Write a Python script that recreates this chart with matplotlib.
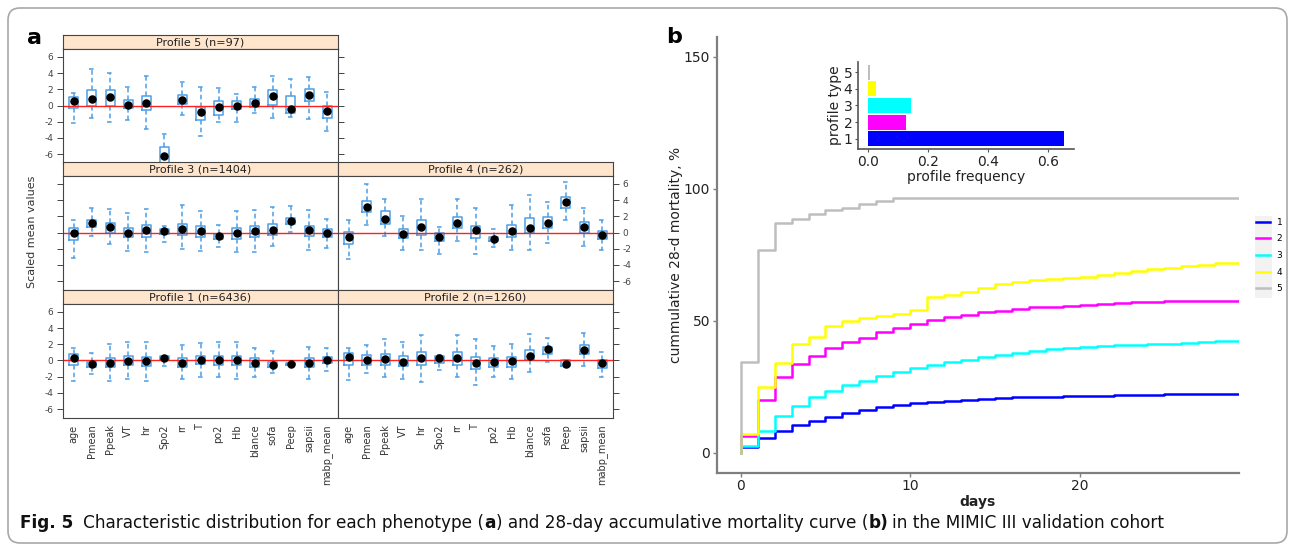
import numpy as np
import matplotlib
matplotlib.use("Agg")
import matplotlib.pyplot as plt
from matplotlib.patches import FancyBboxPatch, Rectangle
from matplotlib.transforms import IdentityTransform

plt.rcParams["axes.unicode_minus"] = False

# ---------------- panel a data (scaled values per profile) ----------------
variables = ["age", "Pmean", "Ppeak", "VT", "hr", "Spo2", "rr", "T", "po2", "Hb",
             "blance", "sofa", "Peep", "sapsii", "mabp_mean"]

p5_med = [0.6, 0.8, 1.0, 0.1, 0.3, -6.2, 0.7, -0.8, -0.2, 0.0, 0.35, 1.2, -0.4, 1.3, -0.65]
p5_q1 = [-0.35, -0.05, 0.0, -0.25, -0.55, -7.5, 0.15, -1.8, -1.15, -0.45, -0.2, 0.1, -0.9, 0.5, -1.6]
p5_q3 = [1.0, 1.9, 1.9, 0.7, 1.2, -5.1, 1.3, -0.2, 0.5, 0.5, 0.8, 1.9, 1.2, 2.0, -0.1]
p5_lo = [-2.2, -1.6, -2.0, -1.8, -2.9, -8.5, -1.2, -3.8, -2.0, -2.1, -0.9, -1.6, -1.4, -1.7, -3.2]
p5_hi = [1.6, 4.5, 4.0, 2.3, 3.6, -3.5, 2.9, 2.3, 2.2, 1.4, 2.3, 3.7, 3.3, 3.5, 1.7]

p3_med = [0.0, 1.2, 0.65, 0.0, 0.25, 0.15, 0.4, 0.15, -0.45, 0.0, 0.2, 0.35, 1.45, 0.25, 0.0]
p3_q1 = [-0.9, 0.7, 0.0, -0.55, -0.5, -0.2, -0.3, -0.5, -0.85, -0.75, -0.5, -0.35, 1.0, -0.4, -0.55]
p3_q3 = [0.6, 1.6, 1.2, 0.55, 0.9, 0.4, 1.05, 0.75, -0.2, 0.55, 0.8, 1.05, 1.8, 0.8, 0.4]
p3_lo = [-3.2, -0.4, -1.45, -2.3, -2.4, -1.15, -2.05, -2.25, -1.85, -2.4, -2.4, -1.65, 0.1, -2.15, -1.95]
p3_hi = [1.55, 3.0, 2.95, 2.4, 2.95, 0.75, 3.35, 2.65, 0.9, 2.6, 2.75, 3.15, 3.25, 2.75, 1.7]

p4_med = [-0.6, 3.1, 1.7, -0.2, 0.7, -0.5, 1.2, 0.3, -0.8, 0.15, 0.55, 1.15, 3.75, 0.65, -0.3]
p4_q1 = [-1.4, 2.5, 1.0, -0.7, -0.3, -1.1, 0.5, -0.7, -1.1, -0.6, -0.1, 0.55, 3.0, -0.1, -0.75]
p4_q3 = [0.1, 3.9, 2.6, 0.4, 1.5, 0.0, 1.9, 0.8, -0.5, 0.95, 1.75, 1.9, 4.35, 1.3, 0.2]
p4_lo = [-3.3, 0.9, -0.4, -2.2, -2.2, -2.65, -1.0, -2.7, -1.8, -2.2, -2.2, -1.35, 1.55, -1.7, -2.2]
p4_hi = [1.55, 6.0, 4.2, 2.0, 4.2, 0.65, 4.1, 3.0, 0.4, 3.4, 4.6, 3.8, 6.2, 3.05, 1.6]

p1_med = [0.3, -0.45, -0.25, -0.1, -0.1, 0.35, -0.25, 0.1, 0.1, 0.0, -0.25, -0.55, -0.45, -0.25, 0.1]
p1_q1 = [-0.55, -0.8, -0.85, -0.6, -0.7, 0.1, -0.8, -0.45, -0.5, -0.6, -0.8, -0.85, -0.6, -0.75, -0.35]
p1_q3 = [0.8, -0.15, 0.3, 0.55, 0.45, 0.55, 0.25, 0.6, 0.6, 0.55, 0.3, -0.2, -0.3, 0.3, 0.45]
p1_lo = [-2.5, -1.65, -2.5, -2.3, -2.5, -0.7, -2.3, -2.0, -2.0, -2.3, -2.1, -1.55, -0.6, -2.3, -1.35]
p1_hi = [1.5, 0.9, 2.0, 2.3, 2.25, 0.6, 1.9, 2.15, 2.25, 2.25, 1.5, 1.15, -0.3, 1.65, 1.55]

p2_med = [0.45, 0.1, 0.2, -0.2, 0.3, 0.25, 0.3, -0.25, -0.15, -0.1, 0.6, 1.4, -0.4, 1.3, -0.35]
p2_q1 = [-0.5, -0.5, -0.55, -0.7, -0.5, -0.3, -0.55, -1.0, -0.8, -0.8, 0.1, 0.8, -0.7, 0.75, -0.9]
p2_q3 = [0.95, 0.65, 0.8, 0.55, 1.05, 0.6, 1.0, 0.45, 0.3, 0.4, 1.25, 1.65, 0.1, 1.9, 0.0]
p2_lo = [-2.45, -1.6, -2.1, -2.3, -2.7, -1.2, -2.0, -3.05, -2.0, -2.3, -1.4, -0.2, -0.8, -0.7, -2.0]
p2_hi = [1.5, 1.9, 2.6, 2.3, 3.2, 0.7, 3.1, 2.6, 1.75, 2.1, 3.3, 2.75, 0.1, 3.45, 1.1]

# ---------------- panel b data ----------------
days = np.arange(0, 29)
mort_1 = [2.0, 5.5, 8.4, 10.6, 12.1, 13.5, 15.1, 16.2, 17.3, 18.2, 18.8, 19.2, 19.6, 20.0, 20.4,
          20.6, 20.9, 21.1, 21.2, 21.4, 21.5, 21.6, 21.8, 21.9, 22.0, 22.1, 22.2, 22.3, 22.4]
mort_2 = [6.2, 19.8, 28.8, 33.6, 36.6, 39.6, 41.9, 43.6, 45.7, 47.3, 48.7, 50.1, 51.4, 52.3, 53.1,
          53.8, 54.5, 55.0, 55.3, 55.7, 56.1, 56.4, 56.6, 56.9, 57.1, 57.3, 57.4, 57.5, 57.6]
mort_3 = [2.7, 8.4, 13.9, 17.6, 20.9, 23.4, 25.7, 27.0, 29.0, 30.7, 32.1, 33.2, 34.4, 35.1, 36.1,
          37.0, 37.8, 38.5, 39.2, 39.6, 40.0, 40.3, 40.6, 40.8, 41.1, 41.3, 41.6, 42.0, 42.2]
mort_4 = [7.1, 24.8, 33.8, 41.1, 43.9, 48.1, 50.0, 50.9, 51.7, 52.4, 54.2, 58.9, 59.8, 60.8, 62.5,
          64.0, 64.8, 65.3, 65.6, 66.0, 66.7, 67.2, 68.1, 68.8, 69.5, 70.1, 70.6, 71.2, 71.8]
mort_5 = [34.2, 76.8, 87.0, 88.5, 90.2, 92.0, 92.6, 94.1, 95.2, 96.5, 96.5, 96.5, 96.5, 96.5, 96.5,
          96.5, 96.5, 96.5, 96.5, 96.5, 96.5, 96.5, 96.5, 96.5, 96.5, 96.5, 96.5, 96.5, 96.5]
profile_types = [1, 2, 3, 4, 5]
profile_freq = [0.655, 0.128, 0.145, 0.026, 0.008]
profile_colors = ["#0000FF", "#FF00FF", "#00FFFF", "#FFFF00", "#BEBEBE"]

W, H = 1293, 546
fig = plt.figure(figsize=(W / 100, H / 100), dpi=100)


def px_axes(x0, y0, x1, y1, **kw):
    # pixel box measured from the top-left corner
    return fig.add_axes([x0 / W, 1 - y1 / H, (x1 - x0) / W, (y1 - y0) / H], **kw)


# outer rounded frame
frame = FancyBboxPatch((8, 3), 1279, 535, boxstyle="round,pad=0,rounding_size=12",
                       transform=IdentityTransform(), fc="none", ec="#A8A8A8", lw=1.2)
fig.patches.append(frame)

# ---------------- panel a ----------------
box_col = "#4C9FE6"
cols = [(63, 338), (338, 613)]
row_top = [35, 162, 290]
strip_h = 13.5
plot_h = 114

panels = [
    ("Profile 5 (n=97)", 0, 0, p5_med, p5_q1, p5_q3, p5_lo, p5_hi, "left", True, "right"),
    ("Profile 3 (n=1404)", 1, 0, p3_med, p3_q1, p3_q3, p3_lo, p3_hi, "left", False, None),
    ("Profile 4 (n=262)", 1, 1, p4_med, p4_q1, p4_q3, p4_lo, p4_hi, "right", True, None),
    ("Profile 1 (n=6436)", 2, 0, p1_med, p1_q1, p1_q3, p1_lo, p1_hi, "left", True, None),
    ("Profile 2 (n=1260)", 2, 1, p2_med, p2_q1, p2_q3, p2_lo, p2_hi, "right", False, None),
]

pos = np.arange(1, len(variables) + 1)
for title, r, c, med, q1, q3, lo, hi, tside, tlab, extra in panels:
    x0, x1 = cols[c]
    top = row_top[r]
    sax = px_axes(x0, top, x1, top + strip_h)
    sax.set_facecolor("#FFE5CC")
    sax.set_xticks([])
    sax.set_yticks([])
    for s in sax.spines.values():
        s.set_color("#444444")
        s.set_linewidth(0.8)
    sax.text(0.5, 0.45, title, ha="center", va="center", fontsize=8, color="#222222",
             transform=sax.transAxes)

    ax = px_axes(x0, top + strip_h, x1, top + strip_h + plot_h)
    stats = [dict(med=m, q1=a, q3=b, whislo=l, whishi=h, fliers=[])
             for m, a, b, l, h in zip(med, q1, q3, lo, hi)]
    ax.bxp(stats, positions=pos, widths=0.5, showfliers=False,
           boxprops=dict(color=box_col, lw=1.1),
           whiskerprops=dict(color=box_col, lw=1.1, ls=(0, (3, 2))),
           capprops=dict(color=box_col, lw=1.1, ls=(0, (3, 2))),
           medianprops=dict(visible=False), capwidths=0.3)
    ax.axhline(0, color="#FF2020", lw=1.0, zorder=2.5)
    ax.scatter(pos, med, s=26, color="black", zorder=3)
    ax.set_xlim(0.4, 15.6)
    ax.set_ylim(-7.05, 7.05)
    ax.set_yticks([-6, -4, -2, 0, 2, 4, 6])
    for s in ax.spines.values():
        s.set_color("#444444")
        s.set_linewidth(0.8)
    ax.tick_params(axis="y", which="both", left=False, right=False, labelleft=False,
                   labelright=False, length=4, width=0.7, colors="#444444", labelsize=6.5, pad=3)
    if tside == "left":
        ax.tick_params(axis="y", left=True, labelleft=tlab)
    else:
        ax.tick_params(axis="y", right=True, labelright=tlab)
    if extra == "right":
        ax.tick_params(axis="y", right=True)
    if r == 2:
        ax.set_xticks(pos)
        ax.set_xticklabels(variables, rotation=90, fontsize=7, color="#333333")
        ax.tick_params(axis="x", length=0, pad=5)
    else:
        ax.set_xticks([])

fig.text(32 / W, 1 - 232 / H, "Scaled mean values", rotation=90, fontsize=8, color="#333333",
         ha="center", va="center")
fig.text(35 / W, 1 - 38 / H, "a", fontsize=16, fontweight="bold", ha="center", va="center")
fig.text(674 / W, 1 - 37 / H, "b", fontsize=16, fontweight="bold", ha="center", va="center")

# ---------------- panel b ----------------
axb = px_axes(717, 36.7, 1239, 472.5)
xmax = 29.4
lines = []
for k, vals in enumerate([mort_1, mort_2, mort_3, mort_4, mort_5]):
    xs = np.r_[0, days, xmax]
    ys = np.r_[0, vals, vals[-1]]
    ln, = axb.plot(xs, ys, drawstyle="steps-post", color=profile_colors[k], lw=1.8)
    lines.append(ln)
axb.set_xlim(-1.4, xmax)
axb.set_ylim(-7.5, 157.5)
axb.set_xticks([0, 10, 20])
axb.set_yticks([0, 50, 100, 150])
for s in ["top", "right"]:
    axb.spines[s].set_visible(False)
for s in ["left", "bottom"]:
    axb.spines[s].set_color("#7F7F7F")
    axb.spines[s].set_linewidth(1.6)
axb.tick_params(length=3, width=1, colors="#7F7F7F", labelcolor="#222222", labelsize=10, pad=2)
axb.set_xlabel("days", fontsize=10, fontweight="bold", color="#222222", labelpad=1)
axb.set_ylabel("cummulative 28-d mortality, %", fontsize=10, color="#222222")
axb.yaxis.set_label_coords(-0.065, 0.5)

# grey key background behind the legend keys (kept below the axes)
fig.patches.append(Rectangle((1255, H - 298), 17, 82, transform=IdentityTransform(),
                             fc="#F2F2F2", ec="none", zorder=-1))
axb.legend(lines, [str(p) for p in profile_types], loc="upper left",
           bbox_to_anchor=(1254 / W, 1 - 216 / H), bbox_transform=fig.transFigure,
           frameon=False, fontsize=6.5, handlelength=1.6, handletextpad=0.7,
           labelspacing=0.85, borderpad=0.2, borderaxespad=0)

# inset bar chart
axi = px_axes(858, 62, 1074, 149)
axi.barh(profile_types, profile_freq, height=0.9, color=profile_colors)
axi.set_xlim(-0.033, 0.688)
axi.set_ylim(0.4, 5.6)
axi.set_xticks([0, 0.2, 0.4, 0.6])
axi.set_xticklabels(["0.0", "0.2", "0.4", "0.6"])
axi.set_yticks(profile_types)
for s in ["top", "right"]:
    axi.spines[s].set_visible(False)
for s in ["left", "bottom"]:
    axi.spines[s].set_color("#555555")
    axi.spines[s].set_linewidth(1.2)
axi.tick_params(length=2.5, width=0.8, colors="#555555", labelcolor="#222222", labelsize=10, pad=1.5)
axi.set_xlabel("profile frequency", fontsize=10, color="#222222", labelpad=1)
axi.set_ylabel("profile type", fontsize=10, color="#222222", labelpad=1)

# ---------------- caption ----------------
cap_font = ["DejaVu Sans"]
parts = [("Fig. 5", "bold", 10),
         ("Characteristic distribution for each phenotype (", "normal", 0),
         ("a", "bold", 0),
         (") and 28-day accumulative mortality curve (", "normal", 0),
         ("b)", "bold", 4),
         ("in the MIMIC III validation cohort", "normal", 0)]
renderer = fig.canvas.get_renderer()
x = 20
for s, wgt, gap in parts:
    t = fig.text(x / W, 1 - 523 / H, s, fontsize=12.2, fontweight=wgt, family=cap_font,
                 ha="left", va="center", color="#111111")
    x += t.get_window_extent(renderer).width + gap

fig.savefig("out.png", dpi=100)
